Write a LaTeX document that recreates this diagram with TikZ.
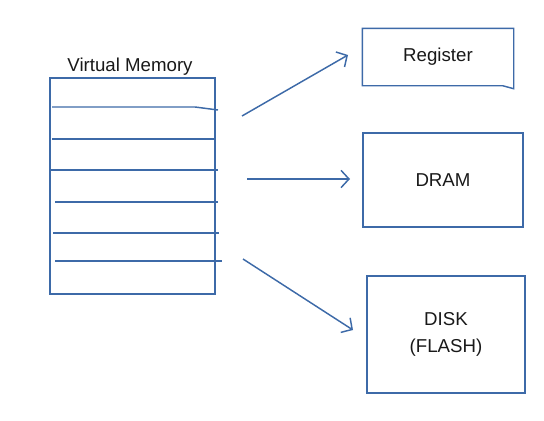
\documentclass[tikz,border=0pt]{standalone}
\usepackage{fontspec}
\setmainfont{Liberation Sans}
\usepackage{tikz}
\usetikzlibrary{arrows.meta, calc, positioning}

\definecolor{penblue}{HTML}{3D6AA8}

\begin{document}
\begin{tikzpicture}[
    x=0.75pt, y=-0.75pt,
    >={Straight Barb[length=6pt,width=13pt]},
    box/.style={rectangle, draw=penblue, line width=1.1pt, font=\fontsize{14}{20}\selectfont, text=black!90, align=center},
    row/.style={draw=penblue, line width=1.1pt},
    link/.style={->, draw=penblue, line width=1.1pt}
]
\useasboundingbox (0,0) rectangle (544,421);

% Virtual memory
\node[box, minimum width=123.75pt, minimum height=162pt] (vm) at (132.5,186) {};
\node[font=\fontsize{14}{17}\selectfont, text=black!90] (vmlabel) at (130,67) {Virtual Memory};

% Rows of the page table
\draw[row] (52,107) -- (195,107) -- (218,110);
\foreach \y/\xa/\xb in {139/52/215, 170/50/218, 202/55/218, 233/53/219, 261/55/222}
    \draw[row] (\xa,\y) -- (\xb,\y);

% Targets
\node[box, draw=none, minimum width=112.5pt, minimum height=42pt] (reg) at (438,57) {Register};
\draw[row] (reg.north west) -- (reg.north east) -- ($(reg.south east)+(0,3)$)
    -- ($(reg.south east)+(-11,0)$) -- (reg.south west) -- cycle;
\node[box, minimum width=120pt, minimum height=70.5pt] (dram) at (443,180) {DRAM};
\node[box, minimum width=118.5pt, minimum height=87.75pt] (disk) at (446,334.5) {DISK\\(FLASH)};

% Arrows
\coordinate (s1) at (242,116);
\coordinate (e1) at (348,55);
\coordinate (s2) at (247,179);
\coordinate (e2) at (350,179);
\coordinate (s3) at (243,259);
\coordinate (e3) at (353,330);
\draw[link] (s1) -- (e1);
\draw[link] (s2) -- (e2);
\draw[link] (s3) -- (e3);

\end{tikzpicture}
\end{document}
